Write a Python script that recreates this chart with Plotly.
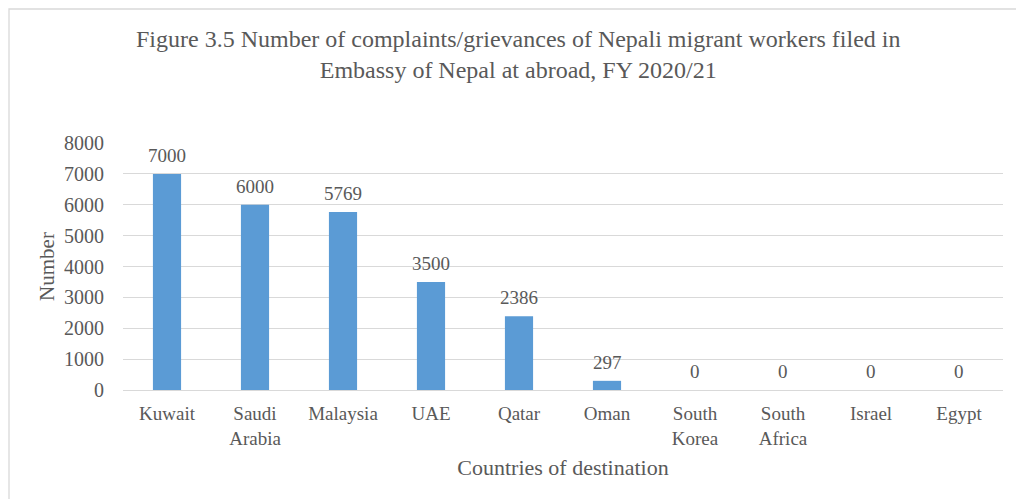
import plotly.graph_objects as go

countries = ["Kuwait", "Saudi<br>Arabia", "Malaysia", "UAE", "Qatar", "Oman",
             "South<br>Korea", "South<br>Africa", "Israel", "Egypt"]
complaints = [7000, 6000, 5769, 3500, 2386, 297, 0, 0, 0, 0]
y_ticks = [0, 1000, 2000, 3000, 4000, 5000, 6000, 7000, 8000]

W, H = 1016, 499
L, R, T, B = 123, 13, 143, 109
pw, ph = W - L - R, H - T - B

TEXT = "#595959"
FONT = "'Liberation Serif', 'Times New Roman', serif"

fig = go.Figure()
fig.add_trace(go.Bar(
    x=countries, y=complaints,
    marker=dict(color="#5B9BD5", line=dict(width=0)),
    hoverinfo="x+y",
))

# value labels above each bar
for c, v in zip(countries, complaints):
    fig.add_annotation(x=c, y=v, xref="x", yref="y", text=f"{v}",
                       showarrow=False, yanchor="bottom", yshift=6,
                       font=dict(family=FONT, size=19, color=TEXT))

# chart title
fig.add_annotation(
    x=(518 - L) / pw, y=1 + (T - 55) / ph, xref="paper", yref="paper",
    text="Figure 3.5 Number of complaints/grievances of Nepali migrant workers filed in<br>"
         "Embassy of Nepal at abroad, FY 2020/21",
    showarrow=False, xanchor="center", yanchor="middle",
    font=dict(family=FONT, size=24, color=TEXT),
)

# outer chart border
fig.add_shape(type="rect", xref="paper", yref="paper",
              x0=(9 - L) / pw, x1=(1030 - L) / pw,
              y0=-(H + 20 - T - ph) / ph, y1=1 + (T - 9) / ph,
              line=dict(color="#D9D9D9", width=1.3), layer="below")

fig.update_layout(
    width=W, height=H,
    margin=dict(l=L, r=R, t=T, b=B),
    paper_bgcolor="white", plot_bgcolor="white",
    bargap=0.68,
    showlegend=False,
    font=dict(family=FONT, color=TEXT, size=19),
    xaxis=dict(
        showgrid=False, showline=True, linecolor="#D9D9D9", linewidth=1,
        ticks="outside", ticklen=6, tickcolor="rgba(0,0,0,0)",
        tickfont=dict(family=FONT, size=19, color=TEXT),
        title=dict(text="Countries of destination", standoff=12,
                   font=dict(family=FONT, size=22, color=TEXT)),
    ),
    yaxis=dict(
        range=[0, 8000], tickvals=y_ticks,
        showgrid=True, gridcolor="#D9D9D9", gridwidth=1,
        zeroline=False, showline=False,
        ticks="outside", ticklen=14, tickcolor="rgba(0,0,0,0)",
        tickfont=dict(family=FONT, size=20, color=TEXT),
        title=dict(text="Number", standoff=3,
                   font=dict(family=FONT, size=21, color=TEXT)),
    ),
)

fig.write_html("out.html")
